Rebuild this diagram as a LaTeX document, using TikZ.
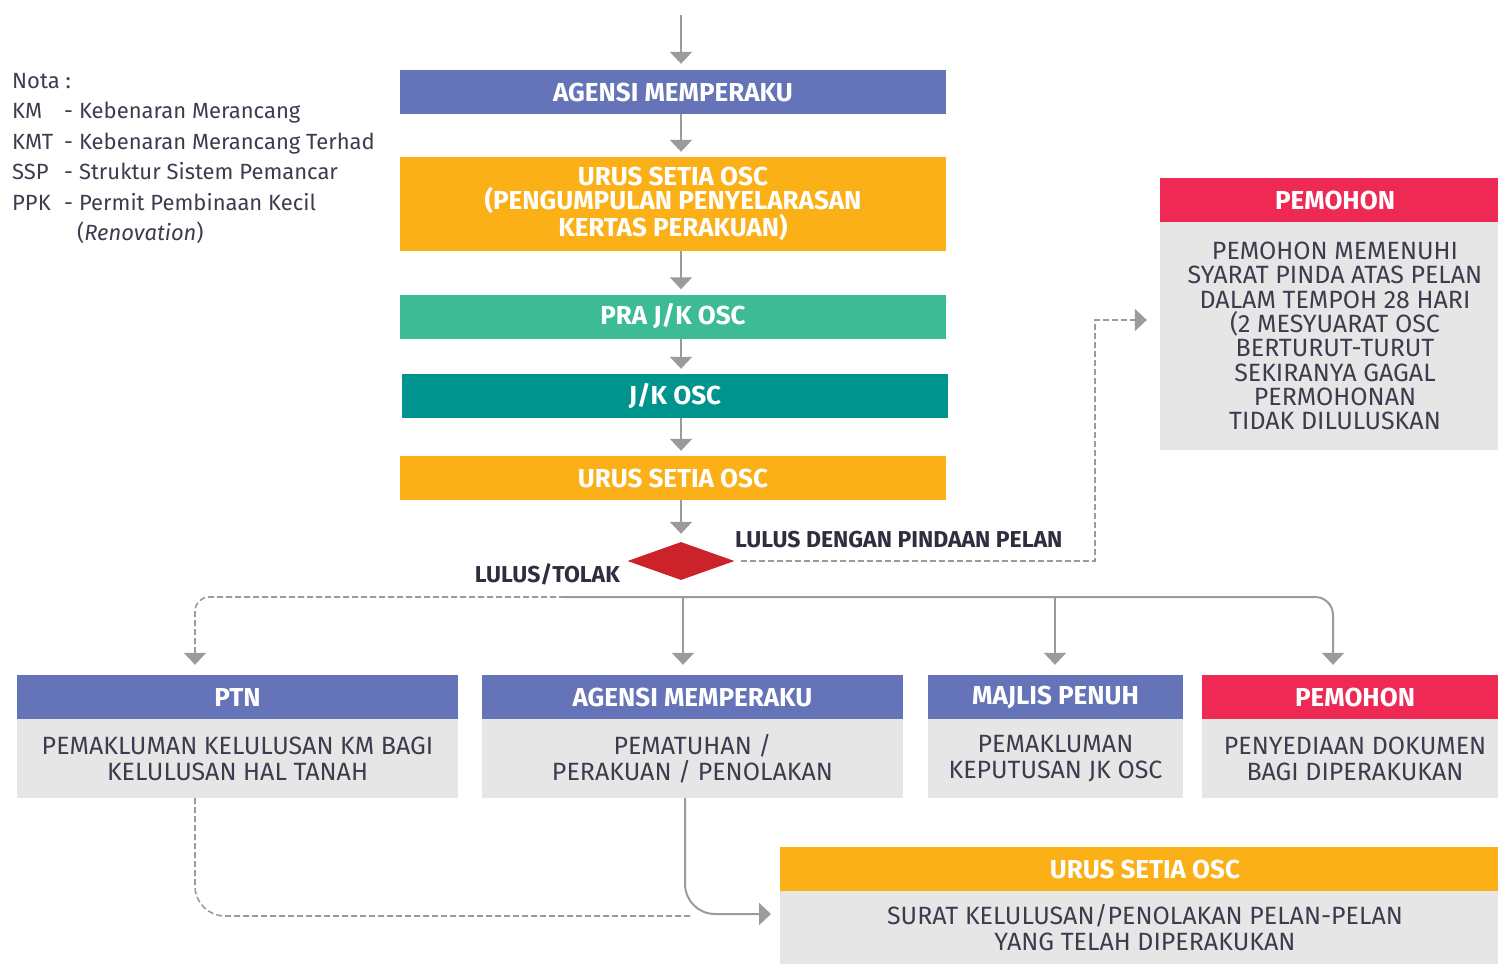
\documentclass[tikz,border=0pt]{standalone}
\usepackage{fontspec}
\setmainfont{Fira Sans}
\usetikzlibrary{arrows.meta,shapes.geometric,calc}
\definecolor{cblue}{HTML}{6574B8}
\definecolor{corange}{HTML}{FCB017}
\definecolor{cgreen}{HTML}{3DBB94}
\definecolor{cteal}{HTML}{00948F}
\definecolor{cred}{HTML}{CC2229}
\definecolor{cpink}{HTML}{EE2954}
\definecolor{cgrey}{HTML}{E6E6E6}
\definecolor{cline}{HTML}{9B9B9B}
\definecolor{ctext}{HTML}{3C3C4E}
\definecolor{ctextb}{HTML}{2E2E3E}
\begin{document}
\begin{tikzpicture}[x=1pt,y=-1pt,
  hdr/.style={fill=#1, text=white, font=\bfseries\fontsize{26}{24}\selectfont, minimum height=44pt, inner sep=0pt, align=center},
  bodyb/.style={fill=cgrey, text=ctext, font=\fontsize{25}{26}\selectfont, align=center, inner sep=0pt},
  lbl/.style={font=\bfseries\fontsize{23}{24}\selectfont, text=ctextb, inner sep=0pt},
  arr/.style={draw=cline, line width=2pt, -{Triangle[width=22pt,length=12pt]}},
  darr/.style={arr, dash pattern=on 6pt off 3pt, line width=1.6pt},
  dline/.style={draw=cline, dash pattern=on 6pt off 3pt, line width=1.6pt}]
\useasboundingbox (0,0) rectangle (1498,964);

% notes
\node[anchor=north west, align=left, font=\fontsize{22}{30.5}\selectfont, text=ctext, inner sep=0pt] (nota) at (12,73)
 {Nota :\\
  \makebox[52pt][l]{KM}-\hspace{6pt}Kebenaran Merancang\\
  \makebox[52pt][l]{KMT}-\hspace{6pt}Kebenaran Merancang Terhad\\
  \makebox[52pt][l]{SSP}-\hspace{6pt}Struktur Sistem Pemancar\\
  \makebox[52pt][l]{PPK}-\hspace{6pt}Permit Pembinaan Kecil\\
  \hspace{65pt}(\textit{Renovation})};

% main column
\node[hdr=cblue, minimum width=546pt] (am1) at (673,92) {AGENSI MEMPERAKU};
\node[hdr=corange, minimum width=546pt, minimum height=94pt] (us1) at (673,204) {URUS SETIA OSC\\(PENGUMPULAN PENYELARASAN\\KERTAS PERAKUAN)};
\node[hdr=cgreen, minimum width=546pt] (pra) at (673,316.5) {PRA J/K OSC};
\node[hdr=cteal, minimum width=546pt] (jk) at (675,396) {J/K OSC};
\node[hdr=corange, minimum width=546pt] (us2) at (673,478) {URUS SETIA OSC};
\node[diamond, fill=cred, minimum width=107pt, minimum height=38pt, aspect=2.8, inner sep=0pt] (dia) at (681,561) {};

\node[lbl, anchor=west] (l1) at (735,540) {LULUS DENGAN PINDAAN PELAN};
\node[lbl, anchor=east] (l2) at (620,574) {LULUS/TOLAK};

% right box (runs past the right edge)
\node[hdr=cpink, minimum width=350pt] (pemH) at (1335,200) {PEMOHON};
\node[bodyb, minimum width=350pt, minimum height=228pt, font=\fontsize{25}{24.3}\selectfont] (pemB) at (1335,336)
 {PEMOHON MEMENUHI\\SYARAT PINDA ATAS PELAN\\DALAM TEMPOH 28 HARI\\(2 MESYUARAT OSC\\BERTURUT-TURUT\\SEKIRANYA GAGAL\\PERMOHONAN\\TIDAK DILULUSKAN};

% bottom row
\node[hdr=cblue, minimum width=441pt] (ptnH) at (237.5,697) {PTN};
\node[bodyb, minimum width=441pt, minimum height=79pt] (ptnB) at (237.5,758.5) {PEMAKLUMAN KELULUSAN KM BAGI\\KELULUSAN HAL TANAH};
\node[hdr=cblue, minimum width=421pt] (am2H) at (692.5,697) {AGENSI MEMPERAKU};
\node[bodyb, minimum width=421pt, minimum height=79pt] (am2B) at (692.5,758.5) {PEMATUHAN /\\PERAKUAN / PENOLAKAN};
\node[hdr=cblue, minimum width=255pt] (mpH) at (1055.5,697) {MAJLIS PENUH};
\node[bodyb, minimum width=255pt, minimum height=79pt] (mpB) at (1055.5,758.5) {PEMAKLUMAN\\KEPUTUSAN JK OSC};
\node[hdr=cpink, minimum width=306pt] (pmH) at (1355,697) {PEMOHON};
\node[bodyb, minimum width=306pt, minimum height=79pt] (pmB) at (1355,758.5) {PENYEDIAAN DOKUMEN\\BAGI DIPERAKUKAN};

\node[hdr=corange, minimum width=730pt] (us3H) at (1145,869) {URUS SETIA OSC};
\node[bodyb, minimum width=730pt, minimum height=73pt] (us3B) at (1145,927.5) {SURAT KELULUSAN/PENOLAKAN PELAN-PELAN\\YANG TELAH DIPERAKUKAN};

% connectors main column
\coordinate (top) at (681,15);
\draw[arr, shorten >=6pt] (top) -- (top |- am1.north);
\draw[arr, shorten >=5pt] (top |- am1.south) -- (top |- us1.north);
\draw[arr, shorten >=5pt] (top |- us1.south) -- (top |- pra.north);
\draw[arr, shorten >=5pt] (top |- pra.south) -- (top |- jk.north);
\draw[arr, shorten >=5pt] (top |- jk.south) -- (top |- us2.north);
\draw[arr, shorten >=8pt] (top |- us2.south) -- (dia.north);

% to right PEMOHON
\coordinate (bend) at (1095,320);
\draw[darr, shorten <=6pt, shorten >=13pt] (dia.east) -| (bend) -- (pemB.west |- bend);

% fork
\coordinate (fk) at (565,597);
\coordinate (fa) at (683,597);
\coordinate (fb) at (1055,597);
\coordinate (fl) at (195,597);
\coordinate (fr) at (1333,597);
\draw[arr, rounded corners=18pt, shorten >=10pt] (fk) -| (fr |- pmH.north);
\draw[darr, rounded corners=14pt, shorten >=10pt] (fk) -| (fl |- ptnH.north);
\draw[arr, shorten >=10pt] (fa) -- (fa |- am2H.north);
\draw[arr, shorten >=10pt] (fb) -- (fb |- mpH.north);

% bottom connectors
\coordinate (ba) at (685,914);
\coordinate (bb) at (780,914);
\draw[arr, rounded corners=30pt, shorten >=9pt] (ba |- am2B.south) |- (bb);
\coordinate (dl) at (195,916);
\coordinate (de) at (690,916);
\draw[dline, rounded corners=30pt] (dl |- ptnB.south) |- (de);
\end{tikzpicture}
\end{document}
